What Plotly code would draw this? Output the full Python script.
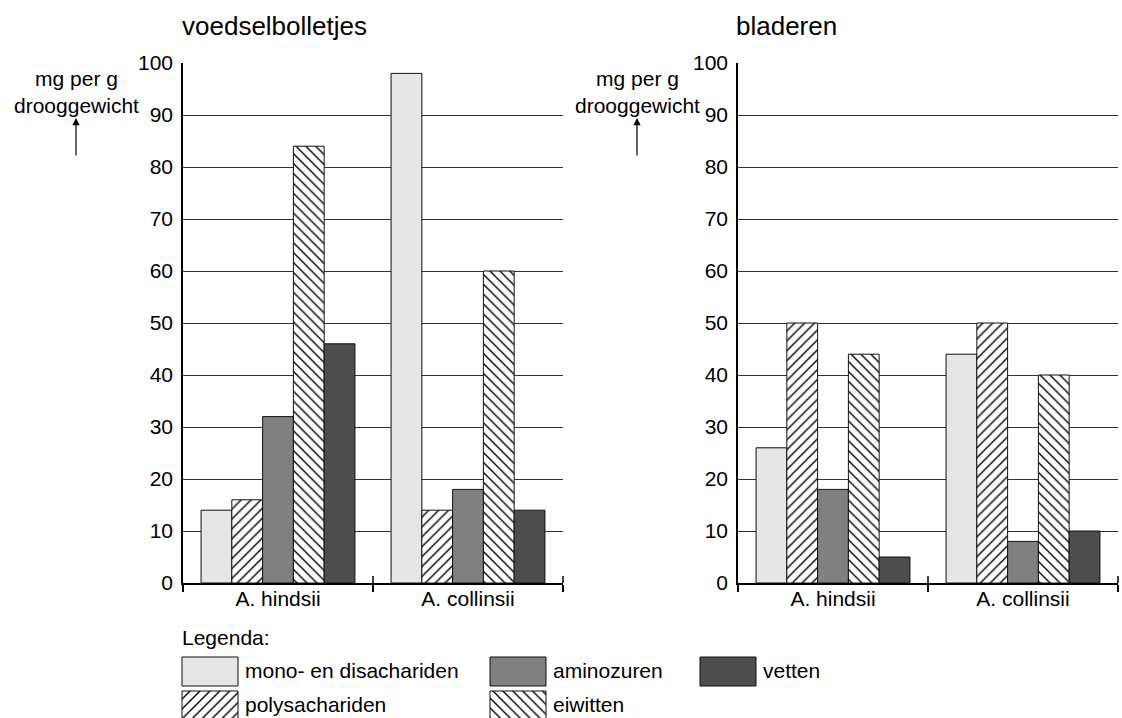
import plotly.graph_objects as go

# ---------------- data ----------------
categories = ["A. hindsii", "A. collinsii"]
series_names = ["mono- en disachariden", "polysachariden", "aminozuren", "eiwitten", "vetten"]

# voedselbolletjes (left panel)
voedsel_mono = [14, 98]
voedsel_poly = [16, 14]
voedsel_amino = [32, 18]
voedsel_eiwit = [84, 60]
voedsel_vet = [46, 14]

# bladeren (right panel)
blad_mono = [26, 44]
blad_poly = [50, 50]
blad_amino = [18, 8]
blad_eiwit = [44, 40]
blad_vet = [5, 10]

y_ticks = [0, 10, 20, 30, 40, 50, 60, 70, 80, 90, 100]
panel_titles = ["voedselbolletjes", "bladeren"]
y_label = "mg per g<br>drooggewicht"
legend_title = "Legenda:"

# ---------------- styles ----------------
W, H = 1122, 718
FONT = "Liberation Sans, Arial, Helvetica, sans-serif"
FS = 21

def px(x):
    return x / W

def py(y):
    return 1 - y / H

styles = {
    "mono- en disachariden": dict(color="#e6e6e6", pattern=None),
    "polysachariden": dict(color="white", pattern="/"),
    "aminozuren": dict(color="#808080", pattern=None),
    "eiwitten": dict(color="white", pattern="\\"),
    "vetten": dict(color="#4d4d4d", pattern=None),
}

def marker_for(name):
    st = styles[name]
    m = dict(color=st["color"], line=dict(color="#111111", width=1))
    if st["pattern"]:
        m["pattern"] = dict(shape=st["pattern"], fgcolor="black", bgcolor="white",
                            size=7, solidity=0.2, fillmode="replace")
    return m

left_vals = [voedsel_mono, voedsel_poly, voedsel_amino, voedsel_eiwit, voedsel_vet]
right_vals = [blad_mono, blad_poly, blad_amino, blad_eiwit, blad_vet]

fig = go.Figure()
for name, vals in zip(series_names, left_vals):
    fig.add_trace(go.Bar(x=categories, y=vals, name=name, marker=marker_for(name),
                         xaxis="x", yaxis="y", showlegend=False))
for name, vals in zip(series_names, right_vals):
    fig.add_trace(go.Bar(x=categories, y=vals, name=name, marker=marker_for(name),
                         xaxis="x2", yaxis="y2", showlegend=False))

# ---------------- legend swatches (hidden pixel-space axes) ----------------
legend_items = [
    ("mono- en disachariden", 182, 657),
    ("aminozuren", 490, 657),
    ("vetten", 700, 657),
    ("polysachariden", 182, 691),
    ("eiwitten", 490, 691),
]
SW_W, SW_H = 56, 29
annotations = []
for name, x0, y0 in legend_items:
    fig.add_trace(go.Bar(orientation="h", y=[y0 + SW_H / 2], x=[SW_W], base=[x0],
                         width=[SW_H], offset=[-SW_H / 2], marker=marker_for(name),
                         xaxis="x3", yaxis="y3", showlegend=False, hoverinfo="skip"))
    annotations.append(dict(text=name, x=px(x0 + SW_W + 5), y=py(y0 + SW_H / 2 - 1),
                            xref="paper", yref="paper", xanchor="left", yanchor="middle",
                            showarrow=False, font=dict(size=FS, family=FONT, color="black")))
annotations.append(dict(text=legend_title, x=px(180), y=py(637), xref="paper", yref="paper",
                        xanchor="left", yanchor="middle", showarrow=False,
                        font=dict(size=FS, family=FONT, color="black")))

# ---------------- panel geometry ----------------
Y_TOP, Y_BOT = 63, 583
left_dom = [px(183), px(563)]
right_dom = [px(738), px(1118)]
y_dom = [py(Y_BOT), py(Y_TOP)]

# titles
annotations.append(dict(text=panel_titles[0], x=px(180), y=py(26), xref="paper", yref="paper",
                        xanchor="left", yanchor="middle", showarrow=False,
                        font=dict(size=26, family=FONT, color="black")))
annotations.append(dict(text=panel_titles[1], x=px(734), y=py(26), xref="paper", yref="paper",
                        xanchor="left", yanchor="middle", showarrow=False,
                        font=dict(size=26, family=FONT, color="black")))

# y-axis labels with upward arrows
shapes = []
for cx in (76, 637):
    annotations.append(dict(text=y_label, x=px(cx), y=py(92), xref="paper", yref="paper",
                            xanchor="center", yanchor="middle", showarrow=False, align="center",
                            font=dict(size=FS, family=FONT, color="black")))
    annotations.append(dict(x=px(cx), y=py(118), ax=0, ay=39,
                            xref="paper", yref="paper", axref="pixel", ayref="pixel",
                            text="", showarrow=True, arrowhead=2, arrowsize=1.2,
                            arrowwidth=1.2, arrowcolor="black"))

# upper halves of the category-boundary ticks
for dom in (left_dom, right_dom):
    for k in (1, 2):
        xx = dom[0] + (dom[1] - dom[0]) * k / 2
        shapes.append(dict(type="line", xref="paper", yref="paper", x0=xx, x1=xx,
                           y0=py(Y_BOT), y1=py(Y_BOT - 7), line=dict(color="black", width=1.5)))

xaxis_common = dict(type="category", categoryorder="array", categoryarray=categories,
                    range=[-0.5, 1.5], showline=True, linecolor="black", linewidth=2,
                    ticks="outside", ticklen=7, tickwidth=1.5, tickcolor="black",
                    tickson="boundaries", showgrid=False, zeroline=False, automargin=False,
                    ticklabelstandoff=-4,
                    tickfont=dict(size=FS, family=FONT, color="black"), fixedrange=True)
yaxis_common = dict(range=[0, 100], tickvals=y_ticks, showline=True, linecolor="black",
                    linewidth=1.5, ticks="", showgrid=True, gridcolor="#333333", gridwidth=1.2,
                    zeroline=False, ticklabelstandoff=4, automargin=False,
                    tickfont=dict(size=FS, family=FONT, color="black"), fixedrange=True)

fig.update_layout(
    width=W, height=H,
    margin=dict(l=0, r=0, t=0, b=0, pad=0, autoexpand=False),
    paper_bgcolor="white", plot_bgcolor="rgba(0,0,0,0)",
    barmode="group", bargap=0.19, bargroupgap=0,
    font=dict(family=FONT, color="black"),
    xaxis=dict(domain=left_dom, anchor="y", **xaxis_common),
    yaxis=dict(domain=y_dom, anchor="x", **yaxis_common),
    xaxis2=dict(domain=right_dom, anchor="y2", **xaxis_common),
    yaxis2=dict(domain=y_dom, anchor="x2", **yaxis_common),
    xaxis3=dict(domain=[0, 1], range=[0, W], visible=False, anchor="y3", fixedrange=True,
                automargin=False),
    yaxis3=dict(domain=[0, 1], range=[H, 0], visible=False, anchor="x3", fixedrange=True,
                automargin=False),
    annotations=annotations,
    shapes=shapes,
    showlegend=False,
)

fig.write_html(
    "out.html",
    config={"displayModeBar": False},
    post_script="document.body.style.margin='0px';document.body.style.overflow='hidden';",
)
